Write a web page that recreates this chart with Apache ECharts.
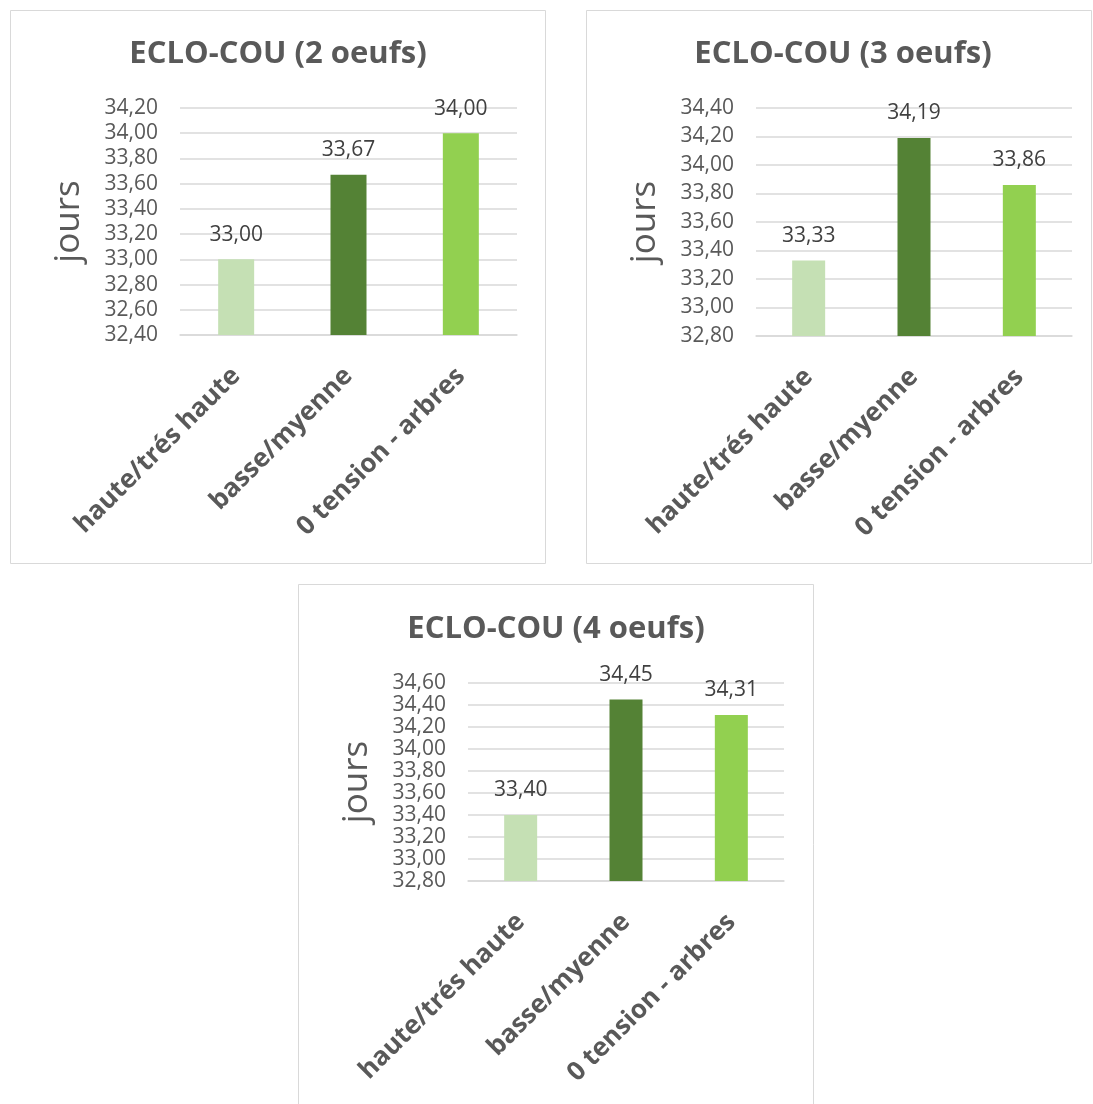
<!DOCTYPE html>
<html>
<head>
<meta charset="utf-8">
<script src="https://cdn.jsdelivr.net/npm/echarts@6/dist/echarts.min.js"></script>
<style>
  html, body { margin: 0; padding: 0; background: #ffffff; }
  #chart { width: 1093px; height: 1104px; }
</style>
</head>
<body>
<div id="chart"></div>
<script>
// Hatching duration (days) by tension level, for clutches of 2, 3 and 4 eggs
const categories = ['haute/trés haute', 'basse/myenne', '0 tension - arbres'];
const titles = ['ECLO-COU (2 oeufs)', 'ECLO-COU (3 oeufs)', 'ECLO-COU (4 oeufs)'];
const jours2oeufs = [33.00, 33.67, 34.00];
const jours3oeufs = [33.33, 34.19, 33.86];
const jours4oeufs = [33.40, 34.45, 34.31];
const axisMin = [32.4, 32.8, 32.8];
const axisMax = [34.2, 34.4, 34.6];
const axisStep = 0.2;
const axisName = 'jours';
const barColors = ['#C5E0B4', '#548235', '#92D050'];

const seriesValues = [jours2oeufs, jours3oeufs, jours4oeufs];

// Panel geometry: frame, plot area, title centre, bar width
const panels = [
  { frame: [10.5, 10.5, 535, 553], grid: { left: 180, top: 108, width: 337, height: 227 }, titleX: 278, titleY: 54, barWidth: 36 },
  { frame: [586.5, 10.5, 505, 553], grid: { left: 756, top: 108, width: 316, height: 228 }, titleX: 843, titleY: 54, barWidth: 33 },
  { frame: [298.5, 584.5, 515, 540], grid: { left: 468, top: 683, width: 316, height: 198 }, titleX: 556, titleY: 629, barWidth: 33 }
];

const FONT = '"Open Sans", "Noto Sans", sans-serif';
const TEXT = '#595959';
const GRIDLINE = '#D9D9D9';
const TITLE_SIZE = 31;
const fmt = v => Number(v).toFixed(2).replace('.', ',');

const option = {
  backgroundColor: '#ffffff',
  animation: false,
  textStyle: { fontFamily: FONT },
  title: panels.map((p, i) => ({
    text: titles[i],
    left: p.titleX,
    top: p.titleY - (TITLE_SIZE + 4) / 2,
    textAlign: 'center',
    padding: 0,
    textStyle: { fontFamily: FONT, fontSize: TITLE_SIZE, fontWeight: 'bold', color: TEXT, lineHeight: TITLE_SIZE + 4 }
  })),
  graphic: panels.map(p => ({
    type: 'rect',
    silent: true,
    z: -1,
    shape: { x: p.frame[0], y: p.frame[1], width: p.frame[2], height: p.frame[3] },
    style: { fill: 'none', stroke: GRIDLINE, lineWidth: 1 }
  })),
  grid: panels.map(p => Object.assign({ containLabel: false }, p.grid)),
  xAxis: panels.map((p, i) => ({
    type: 'category',
    gridIndex: i,
    data: categories,
    axisTick: { show: false },
    axisLine: { show: true, lineStyle: { color: GRIDLINE, width: 1.5 } },
    axisLabel: {
      interval: 0,
      rotate: 45,
      margin: 37,
      color: TEXT,
      fontFamily: FONT,
      fontSize: 26,
      fontWeight: 'bold'
    }
  })),
  yAxis: panels.map((p, i) => ({
    type: 'value',
    gridIndex: i,
    min: axisMin[i],
    max: axisMax[i],
    interval: axisStep,
    name: axisName,
    nameLocation: 'middle',
    nameGap: 93,
    nameRotate: 90,
    nameTextStyle: { fontFamily: FONT, fontSize: 35, color: TEXT },
    axisLine: { show: false },
    axisTick: { show: false },
    axisLabel: { margin: 22, color: TEXT, fontFamily: FONT, fontSize: 21, formatter: fmt },
    splitLine: { show: true, lineStyle: { color: GRIDLINE, width: 1.5 } }
  })),
  series: panels.map((p, i) => ({
    type: 'bar',
    xAxisIndex: i,
    yAxisIndex: i,
    barWidth: p.barWidth,
    data: seriesValues[i].map((v, k) => ({ value: v, itemStyle: { color: barColors[k] } })),
    label: {
      show: true,
      position: 'top',
      distance: 14,
      color: '#404040',
      fontFamily: FONT,
      fontSize: 21,
      formatter: d => fmt(d.value)
    }
  }))
};

const chart = echarts.init(document.getElementById('chart'), null, { renderer: 'canvas' });
chart.setOption(option);
</script>
</body>
</html>
